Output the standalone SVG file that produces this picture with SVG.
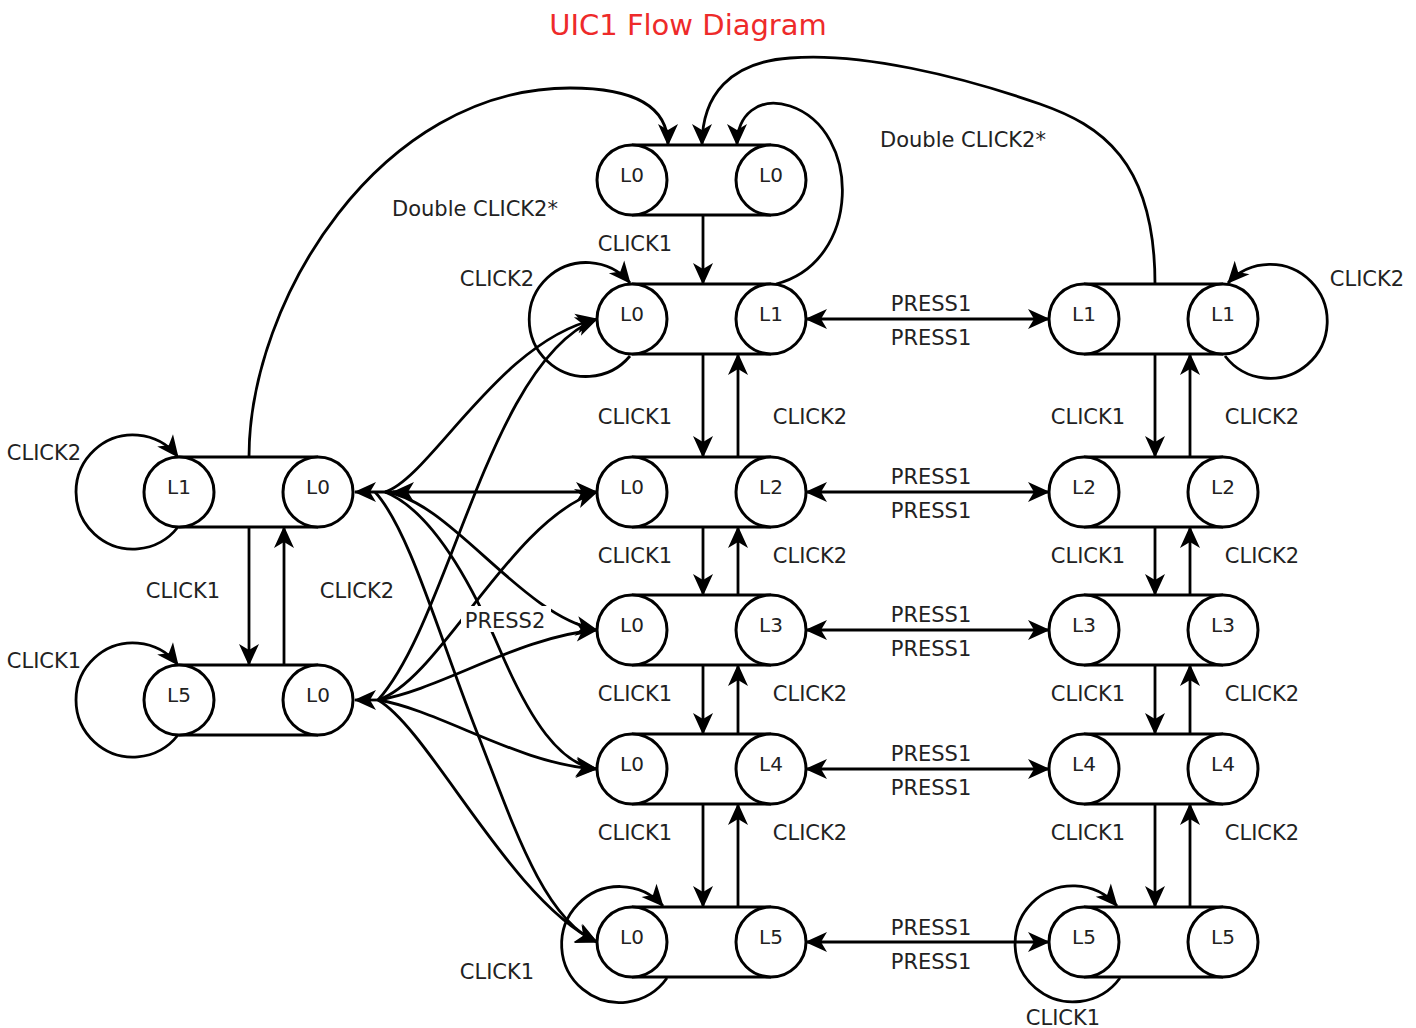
<svg xmlns="http://www.w3.org/2000/svg" width="1416" height="1028" viewBox="0 0 1416 1028">
<style>
.e{fill:none;stroke:#000;stroke-width:2.8}
.a{marker-end:url(#ah)}
.b{marker-start:url(#ah);marker-end:url(#ah)}
.nb{fill:#fff;stroke:none}
.nl{stroke:#000;stroke-width:3}
.nc{fill:#fff;stroke:#000;stroke-width:3}
.nt{font-family:"DejaVu Sans",Verdana,sans-serif;font-size:20px;fill:#222;text-anchor:middle}
.lb{font-family:"DejaVu Sans",Verdana,sans-serif;font-size:21px;fill:#222;text-anchor:middle}
.title{font-family:"DejaVu Sans",Verdana,sans-serif;font-size:29px;fill:#ee2a2a;text-anchor:middle}
</style>
<defs>
<marker id="ah" markerUnits="userSpaceOnUse" markerWidth="28" markerHeight="26" viewBox="-24 -13 28 26" refX="0" refY="0" orient="auto-start-reverse">
<path d="M1,0 L-21,-10 L-15,0 L-21,10 Z" fill="#000"/>
</marker>
</defs>
<rect width="1416" height="1028" fill="#fff"/>
<text class="title" x="688" y="35">UIC1 Flow Diagram</text>

<g id="edges">
<path class="e a" d="M703 215 L703 284"/>
<path class="e a" d="M703 354 L703 457"/><path class="e a" d="M738 457 L738 354"/>
<path class="e a" d="M703 527 L703 595"/><path class="e a" d="M738 595 L738 527"/>
<path class="e a" d="M703 665 L703 734"/><path class="e a" d="M738 734 L738 665"/>
<path class="e a" d="M703 804 L703 907"/><path class="e a" d="M738 907 L738 804"/>
<path class="e a" d="M1155 354 L1155 457"/><path class="e a" d="M1190 457 L1190 354"/>
<path class="e a" d="M1155 527 L1155 595"/><path class="e a" d="M1190 595 L1190 527"/>
<path class="e a" d="M1155 665 L1155 734"/><path class="e a" d="M1190 734 L1190 665"/>
<path class="e a" d="M1155 804 L1155 907"/><path class="e a" d="M1190 907 L1190 804"/>
<path class="e a" d="M249 527 L249 665"/><path class="e a" d="M284 665 L284 527"/>
<path class="e b" d="M806 319 L1049 319"/>
<path class="e b" d="M806 492 L1049 492"/>
<path class="e b" d="M806 630 L1049 630"/>
<path class="e b" d="M806 769 L1049 769"/>
<path class="e b" d="M806 942 L1049 942"/>
<path class="e a" d="M178 527 A57 57 0 1 1 178 457"/>
<path class="e a" d="M178 735 A57 57 0 1 1 178 665"/>
<path class="e a" d="M630 356 A57 57 0 1 1 630 283"/>
<path class="e a" d="M667 978 A58 58 0 1 1 663 906"/>
<path class="e a" d="M1120 978 A58 58 0 1 1 1117 906"/>
<path class="e a" d="M1225 356 A57 57 0 1 0 1228 283"/>
<path class="e a" d="M249 457 C249 300 380 88 570 88 C640 88 668 110 668 145"/>
<path class="e a" d="M1155 284 C1155 160 1100 125 1040 104 C960 76 860 52 790 58 C730 62 702 95 702 145"/>
<path class="e a" d="M776 284 C862 262 862 130 790 106 C758 96 737 115 737 145"/>
<path class="e a" d="M385 492 C430 478 500 340 597 319"/>
<path class="e a" d="M378 700 C450 620 490 360 597 319"/>
<path class="e b" d="M393 492 L597 492"/>
<path class="e a" d="M378 700 C440 680 510 520 597 492"/>
<path class="e a" d="M385 492 C450 500 520 615 597 630"/>
<path class="e a" d="M378 700 C440 690 520 636 597 630"/>
<path class="e a" d="M385 492 C430 510 470 580 500 650 C530 720 560 765 597 769"/>
<path class="e a" d="M378 700 C440 710 520 765 597 769"/>
<path class="e a" d="M375 492 C410 530 440 640 480 740 C515 830 545 920 597 942"/>
<path class="e a" d="M378 700 C430 730 510 900 597 942"/>
<path class="e a" d="M400 492 L355 492"/>
<path class="e a" d="M385 700 L355 700"/>
</g>

<g id="nodes">
<g id="n-c0"><rect class="nb" x="632" y="145" width="139" height="70"/><line class="nl" x1="632" y1="145" x2="771" y2="145"/><line class="nl" x1="632" y1="215" x2="771" y2="215"/><circle class="nc" cx="632" cy="180" r="35"/><circle class="nc" cx="771" cy="180" r="35"/><text class="nt" x="632" y="182">L0</text><text class="nt" x="771" y="182">L0</text></g>
<g id="n-c1"><rect class="nb" x="632" y="284" width="139" height="70"/><line class="nl" x1="632" y1="284" x2="771" y2="284"/><line class="nl" x1="632" y1="354" x2="771" y2="354"/><circle class="nc" cx="632" cy="319" r="35"/><circle class="nc" cx="771" cy="319" r="35"/><text class="nt" x="632" y="321">L0</text><text class="nt" x="771" y="321">L1</text></g>
<g id="n-c2"><rect class="nb" x="632" y="457" width="139" height="70"/><line class="nl" x1="632" y1="457" x2="771" y2="457"/><line class="nl" x1="632" y1="527" x2="771" y2="527"/><circle class="nc" cx="632" cy="492" r="35"/><circle class="nc" cx="771" cy="492" r="35"/><text class="nt" x="632" y="494">L0</text><text class="nt" x="771" y="494">L2</text></g>
<g id="n-c3"><rect class="nb" x="632" y="595" width="139" height="70"/><line class="nl" x1="632" y1="595" x2="771" y2="595"/><line class="nl" x1="632" y1="665" x2="771" y2="665"/><circle class="nc" cx="632" cy="630" r="35"/><circle class="nc" cx="771" cy="630" r="35"/><text class="nt" x="632" y="632">L0</text><text class="nt" x="771" y="632">L3</text></g>
<g id="n-c4"><rect class="nb" x="632" y="734" width="139" height="70"/><line class="nl" x1="632" y1="734" x2="771" y2="734"/><line class="nl" x1="632" y1="804" x2="771" y2="804"/><circle class="nc" cx="632" cy="769" r="35"/><circle class="nc" cx="771" cy="769" r="35"/><text class="nt" x="632" y="771">L0</text><text class="nt" x="771" y="771">L4</text></g>
<g id="n-c5"><rect class="nb" x="632" y="907" width="139" height="70"/><line class="nl" x1="632" y1="907" x2="771" y2="907"/><line class="nl" x1="632" y1="977" x2="771" y2="977"/><circle class="nc" cx="632" cy="942" r="35"/><circle class="nc" cx="771" cy="942" r="35"/><text class="nt" x="632" y="944">L0</text><text class="nt" x="771" y="944">L5</text></g>
<g id="n-r1"><rect class="nb" x="1084" y="284" width="139" height="70"/><line class="nl" x1="1084" y1="284" x2="1223" y2="284"/><line class="nl" x1="1084" y1="354" x2="1223" y2="354"/><circle class="nc" cx="1084" cy="319" r="35"/><circle class="nc" cx="1223" cy="319" r="35"/><text class="nt" x="1084" y="321">L1</text><text class="nt" x="1223" y="321">L1</text></g>
<g id="n-r2"><rect class="nb" x="1084" y="457" width="139" height="70"/><line class="nl" x1="1084" y1="457" x2="1223" y2="457"/><line class="nl" x1="1084" y1="527" x2="1223" y2="527"/><circle class="nc" cx="1084" cy="492" r="35"/><circle class="nc" cx="1223" cy="492" r="35"/><text class="nt" x="1084" y="494">L2</text><text class="nt" x="1223" y="494">L2</text></g>
<g id="n-r3"><rect class="nb" x="1084" y="595" width="139" height="70"/><line class="nl" x1="1084" y1="595" x2="1223" y2="595"/><line class="nl" x1="1084" y1="665" x2="1223" y2="665"/><circle class="nc" cx="1084" cy="630" r="35"/><circle class="nc" cx="1223" cy="630" r="35"/><text class="nt" x="1084" y="632">L3</text><text class="nt" x="1223" y="632">L3</text></g>
<g id="n-r4"><rect class="nb" x="1084" y="734" width="139" height="70"/><line class="nl" x1="1084" y1="734" x2="1223" y2="734"/><line class="nl" x1="1084" y1="804" x2="1223" y2="804"/><circle class="nc" cx="1084" cy="769" r="35"/><circle class="nc" cx="1223" cy="769" r="35"/><text class="nt" x="1084" y="771">L4</text><text class="nt" x="1223" y="771">L4</text></g>
<g id="n-r5"><rect class="nb" x="1084" y="907" width="139" height="70"/><line class="nl" x1="1084" y1="907" x2="1223" y2="907"/><line class="nl" x1="1084" y1="977" x2="1223" y2="977"/><circle class="nc" cx="1084" cy="942" r="35"/><circle class="nc" cx="1223" cy="942" r="35"/><text class="nt" x="1084" y="944">L5</text><text class="nt" x="1223" y="944">L5</text></g>
<g id="n-l1"><rect class="nb" x="179" y="457" width="139" height="70"/><line class="nl" x1="179" y1="457" x2="318" y2="457"/><line class="nl" x1="179" y1="527" x2="318" y2="527"/><circle class="nc" cx="179" cy="492" r="35"/><circle class="nc" cx="318" cy="492" r="35"/><text class="nt" x="179" y="494">L1</text><text class="nt" x="318" y="494">L0</text></g>
<g id="n-l5"><rect class="nb" x="179" y="665" width="139" height="70"/><line class="nl" x1="179" y1="665" x2="318" y2="665"/><line class="nl" x1="179" y1="735" x2="318" y2="735"/><circle class="nc" cx="179" cy="700" r="35"/><circle class="nc" cx="318" cy="700" r="35"/><text class="nt" x="179" y="702">L5</text><text class="nt" x="318" y="702">L0</text></g>
</g>

<g id="labels">
<text class="lb" x="635" y="251">CLICK1</text>
<text class="lb" x="635" y="424">CLICK1</text><text class="lb" x="810" y="424">CLICK2</text>
<text class="lb" x="635" y="563">CLICK1</text><text class="lb" x="810" y="563">CLICK2</text>
<text class="lb" x="635" y="701">CLICK1</text><text class="lb" x="810" y="701">CLICK2</text>
<text class="lb" x="635" y="840">CLICK1</text><text class="lb" x="810" y="840">CLICK2</text>
<text class="lb" x="1088" y="424">CLICK1</text><text class="lb" x="1262" y="424">CLICK2</text>
<text class="lb" x="1088" y="563">CLICK1</text><text class="lb" x="1262" y="563">CLICK2</text>
<text class="lb" x="1088" y="701">CLICK1</text><text class="lb" x="1262" y="701">CLICK2</text>
<text class="lb" x="1088" y="840">CLICK1</text><text class="lb" x="1262" y="840">CLICK2</text>
<text class="lb" x="183" y="598">CLICK1</text><text class="lb" x="357" y="598">CLICK2</text>
<text class="lb" x="931" y="311">PRESS1</text><text class="lb" x="931" y="345">PRESS1</text>
<text class="lb" x="931" y="484">PRESS1</text><text class="lb" x="931" y="518">PRESS1</text>
<text class="lb" x="931" y="622">PRESS1</text><text class="lb" x="931" y="656">PRESS1</text>
<text class="lb" x="931" y="761">PRESS1</text><text class="lb" x="931" y="795">PRESS1</text>
<text class="lb" x="931" y="935">PRESS1</text><text class="lb" x="931" y="969">PRESS1</text>
<text class="lb" x="44" y="460">CLICK2</text>
<text class="lb" x="44" y="668">CLICK1</text>
<text class="lb" x="497" y="286">CLICK2</text>
<text class="lb" x="497" y="979">CLICK1</text>
<text class="lb" x="1063" y="1025">CLICK1</text>
<text class="lb" x="1367" y="286">CLICK2</text>
<text class="lb" x="475" y="216">Double CLICK2*</text>
<text class="lb" x="963" y="147">Double CLICK2*</text>
<rect x="461" y="606" width="90" height="26" fill="#fff"/>
<text class="lb" x="505" y="628">PRESS2</text>
</g>
</svg>
